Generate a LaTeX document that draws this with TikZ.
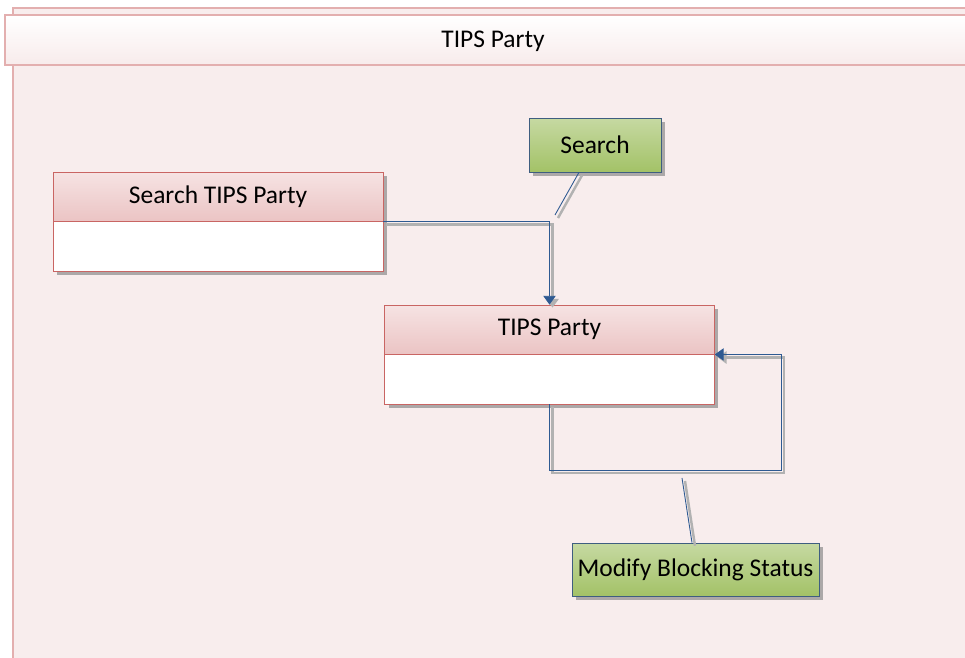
\documentclass[tikz,border=0pt]{standalone}
\usepackage{fontspec}
\setmainfont{Carlito}
\usepackage{tikz}
\usetikzlibrary{positioning, shadows, arrows.meta}

\definecolor{framefill}{HTML}{F8EDED}
\definecolor{frameline}{HTML}{E3AFAF}
\definecolor{headtop}{HTML}{F6E3E3}
\definecolor{headbot}{HTML}{EBC4C4}
\definecolor{entline}{HTML}{C96563}
\definecolor{greentop}{HTML}{C6D9A2}
\definecolor{greenbot}{HTML}{A3C267}
\definecolor{greenline}{HTML}{3F5E80}
\definecolor{linkblue}{HTML}{2E5A92}

\tikzset{
    every node/.style = {font=\fontsize{14.5}{17}\selectfont},
    entity/.style = {draw=entline, fill=white, minimum width=6.6cm, minimum height=1.98cm,
        drop shadow={shadow xshift=0.08cm, shadow yshift=-0.08cm, fill=black!45, opacity=0.7}},
    entityhead/.style = {draw=entline, top color=headtop, bottom color=headbot,
        minimum width=6.6cm, minimum height=0.98cm, inner sep=0pt},
    action/.style = {draw=greenline, top color=greentop, bottom color=greenbot, inner sep=0pt,
        drop shadow={shadow xshift=0.08cm, shadow yshift=-0.08cm, fill=black!45, opacity=0.7}},
    link/.style = {draw=linkblue, line width=0.5pt,
        preaction={draw=black!30, line width=1.4pt, transform canvas={shift={(0.06cm,-0.06cm)}}}},
    tip/.style = {-{Triangle[length=5pt, width=7pt]}}
}

\begin{document}
\begin{tikzpicture}[x=0.02cm, y=-0.02cm]
            \useasboundingbox (0,0) rectangle (965,658);
            \clip (0,0) rectangle (965,658);
            % swimlane
            \draw[draw=frameline, fill=framefill, line width=0.8pt] (13,8) rectangle (990,680);
            \draw[draw=frameline, top color=white, bottom color=framefill!80!headtop, line width=0.6pt] (5,15) rectangle (990,65);
            \node (title) at (493,41) {TIPS Party};

            % entities
            \node[entity] (sp) at (218,221.5) {};
            \node[entityhead, anchor=north] (sphead) at (sp.north) {Search TIPS Party};
            \node[entity] (party) at (549.5,354.5) {};
            \node[entityhead, anchor=north] (partyhead) at (party.north) {TIPS Party};

            % actions
            \node[action, minimum width=2.64cm, minimum height=1.08cm] (search) at (595,145) {Search};
            \node[action, minimum width=4.94cm, minimum height=1.06cm] (modify) at (695.5,569.5) {Modify Blocking Status};

            % connectors
            \coordinate (c1) at (555,215);
            \coordinate (loop) at (781,470);
            \coordinate (c2) at (682,478);
            \draw[link, tip] (sphead.south east) -| (party.north);
            \draw[link] ([xshift=-0.32cm]search.south) -- (c1);
            \draw[link, tip] (party.south) |- (loop) |- (party.east);
            \draw[link] ([xshift=-0.07cm]modify.north) -- (c2);
        \end{tikzpicture}
\end{document}
